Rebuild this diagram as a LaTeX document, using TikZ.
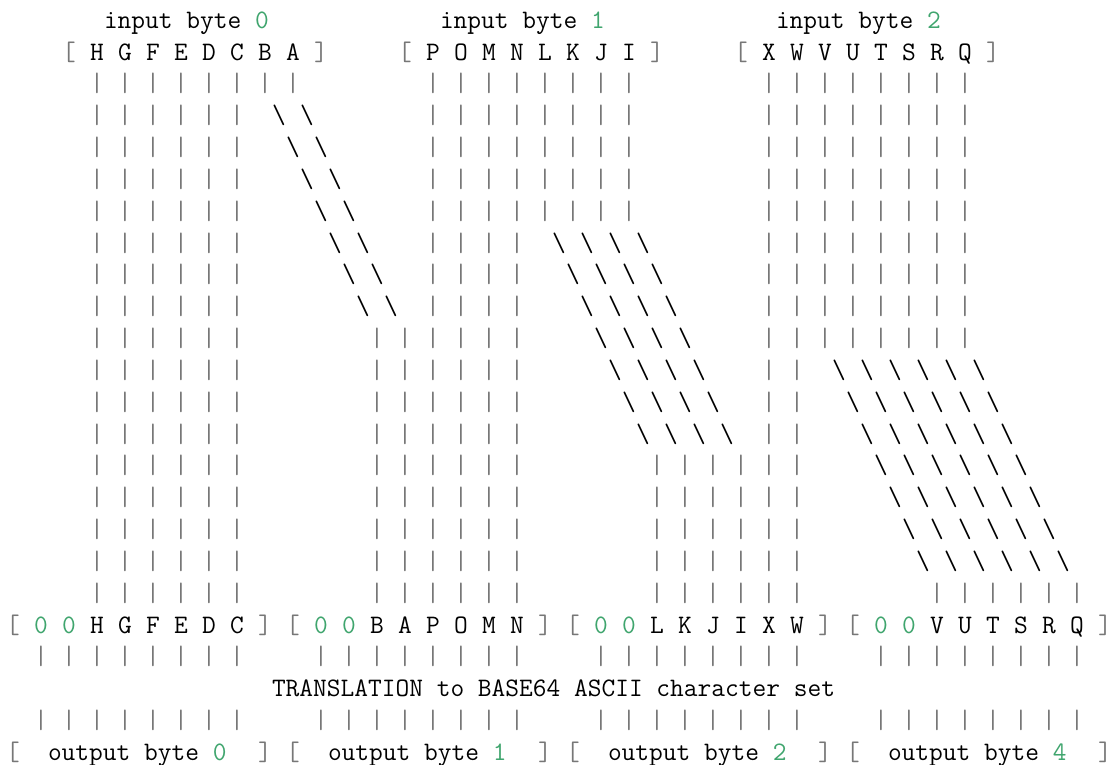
\documentclass[tikz,border=0pt]{standalone}
\definecolor{barg}{RGB}{119,119,119}
\definecolor{dg}{RGB}{64,165,110}
\tikzset{
  ch/.style={font=\ttfamily\fontsize{13.333pt}{16pt}\selectfont, anchor=base, inner sep=0pt, outer sep=0pt, text=black},
  chw/.style={ch, anchor=base west},
  barc/.style={ch, text=barg},
  slashc/.style={ch, text=black},
  digc/.style={ch, text=dg},
}
\begin{document}
\begin{tikzpicture}
\useasboundingbox (0,0) rectangle (560pt,-382.5pt);
\begin{scope}[x=7pt,y=-15.915pt,shift={(6.5pt,-14.17pt)}]
% row 0: labels
\foreach \c/\d in {7/0,31/1,55/2}
  \node[chw] (lab\d) at ({\c-0.5},0) {input byte \textcolor{dg}{\d}};
% row 1: input brackets
\foreach \g/\c in {0/4,1/28,2/52}{
  \pgfmathtruncatemacro\ce{\c+18}
  \node[barc] (inL\g) at (\c,1) {\lbrack};
  \node[barc] (inR\g) at (\ce,1) {\rbrack};
}
% row 1: input letters
\foreach \l [count=\i from 0] in {H,G,F,E,D,C,B,A,P,O,M,N,L,K,J,I,X,W,V,U,T,S,R,Q}{
  \pgfmathtruncatemacro\gg{int(\i/8)}
  \pgfmathtruncatemacro\pp{mod(\i,8)}
  \pgfmathtruncatemacro\cc{6+24*\gg+2*\pp}
  \node[ch] (in\l) at (\cc,1) {\l};
}
% straight bars rows 2..18
\foreach \c in {6,8,10,12,14,16,30,32,34,36,54,56}
  \foreach \r in {2,...,18}
    \node[barc] (b-\c-\r) at (\c,\r) {|};
% shifted groups
\foreach \cs/\ce/\t in {18/20/2, 38/44/6, 58/68/10}{
  \pgfmathtruncatemacro\cn{\cs+2}
  \pgfmathtruncatemacro\sa{\t+1}
  \pgfmathtruncatemacro\sb{\t+7}
  \pgfmathtruncatemacro\ba{\t+8}
  \foreach \c in {\cs,\cn,...,\ce}{
    \foreach \r in {2,...,\t}
      \node[barc] (b-\c-\r) at (\c,\r) {|};
    \foreach \r in {\sa,...,\sb}{
      \pgfmathtruncatemacro\sc{\c+\r-\t}
      \node[slashc] (s-\sc-\r) at (\sc,\r) {\textbackslash};
    }
    \pgfmathtruncatemacro\bc{\c+8}
    \foreach \r in {\ba,...,18}
      \node[barc] (b-\bc-\r) at (\bc,\r) {|};
  }
}
% row 19: output groups
\foreach \g in {0,1,2,3}{
  \pgfmathtruncatemacro\s{20*\g}
  \pgfmathtruncatemacro\za{20*\g+2}
  \pgfmathtruncatemacro\zb{20*\g+4}
  \pgfmathtruncatemacro\se{20*\g+18}
  \node[barc] (outL\g) at (\s,19) {\lbrack};
  \node[digc] (zA\g) at (\za,19) {0};
  \node[digc] (zB\g) at (\zb,19) {0};
  \node[barc] (outR\g) at (\se,19) {\rbrack};
  \foreach \k in {1,...,8}{
    \pgfmathtruncatemacro\bc{20*\g+2*\k}
    \node[barc] (t-\bc) at (\bc,20) {|};
    \node[barc] (u-\bc) at (\bc,22) {|};
  }
}
\foreach \l [count=\i from 0] in {H,G,F,E,D,C,B,A,P,O,M,N,L,K,J,I,X,W,V,U,T,S,R,Q}{
  \pgfmathtruncatemacro\gg{int(\i/6)}
  \pgfmathtruncatemacro\pp{mod(\i,6)}
  \pgfmathtruncatemacro\cc{20*\gg+6+2*\pp}
  \node[ch] (out\l) at (\cc,19) {\l};
}
% row 21
\node[chw] (trans) at (18.5,21) {TRANSLATION to BASE64 ASCII character set};
% row 23
\foreach \g/\d in {0/0,1/1,2/2,3/4}{
  \pgfmathtruncatemacro\s{20*\g}
  \pgfmathtruncatemacro\se{20*\g+18}
  \node[barc] (obL\g) at (\s,23) {\lbrack};
  \node[chw] (ob\g) at ({\s+2.5},23) {output byte \textcolor{dg}{\d}};
  \node[barc] (obR\g) at (\se,23) {\rbrack};
}
\end{scope}
\end{tikzpicture}
\end{document}
